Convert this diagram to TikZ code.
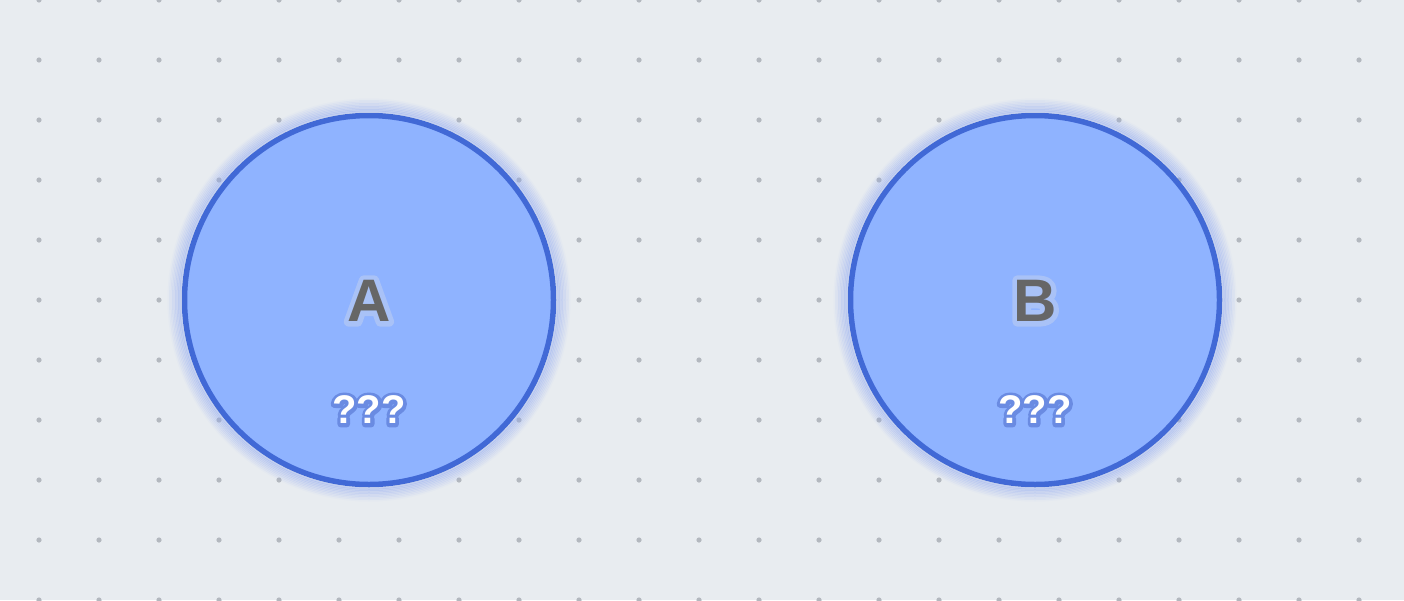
\documentclass[tikz,border=0pt]{standalone}
\usepackage{fontspec}
\setmainfont{Liberation Sans}
\usepackage{tikz}
\usetikzlibrary{positioning}
\definecolor{canvas}{HTML}{E8ECF0}
\definecolor{griddot}{HTML}{B3B8BF}
\definecolor{tokenfill}{HTML}{8FB3FF}
\definecolor{tokenline}{HTML}{4169D6}
\definecolor{tokenglow}{HTML}{8FA8F0}
\definecolor{namegray}{HTML}{666666}
\newcommand{\strokeon}[2]{\special{pdf:literal #1 RG #2 w 1 j 1 Tr}}
\newcommand{\strokeoff}{\special{pdf:literal 0 Tr 1 w 0 j}}

\begin{document}
\begin{tikzpicture}[
  x=1pt, y=-1pt,
  token/.style={
    circle,
    draw=tokenline,
    line width=5.5pt,
    fill=tokenfill,
    minimum size=369pt,
    inner sep=0pt
  },
  tokenname/.style={
    font=\fontsize{60}{60}\selectfont\bfseries,
    text=namegray,
    inner sep=0pt
  },
  tokenq/.style={
    font=\fontsize{40}{40}\selectfont\bfseries,
    text=white,
    inner sep=0pt
  }
]
% background and dot grid
\fill[canvas] (0,0) rectangle (1404,600);
\useasboundingbox (0,0) rectangle (1404,600);
\foreach \i in {0,...,22}
  \foreach \j in {0,...,10}
    \fill[griddot] (39+60*\i, 60*\j) circle (2.6pt);

% soft glow round the tokens
\foreach \cx in {369,1035}
  \foreach \g in {1,...,9}
    \draw[tokenglow, line width=2pt, opacity=0.45-0.045*\g] (\cx,300) circle ({187pt+1.5pt*\g});

\node[token] (a) at (369,300) {};
\node[token] (b) at (1035,300) {};

% halos under the texts
\node[tokenname] (ahalo) at (369,301) {\strokeon{0.663 0.761 0.969}{10}A\strokeoff};
\node[tokenname] (bhalo) at (1035,301) {\strokeon{0.663 0.761 0.969}{10}B\strokeoff};
\node[tokenq] (aqhalo) at (369,410) {\strokeon{0.416 0.545 0.886}{7}???\strokeoff};
\node[tokenq] (bqhalo) at (1035,410) {\strokeon{0.416 0.545 0.886}{7}???\strokeoff};

\node[tokenname] (aname) at (369,301) {A};
\node[tokenname] (bname) at (1035,301) {B};
\node[tokenq] (aq) at (369,410) {???};
\node[tokenq] (bq) at (1035,410) {???};
\end{tikzpicture}
\end{document}
